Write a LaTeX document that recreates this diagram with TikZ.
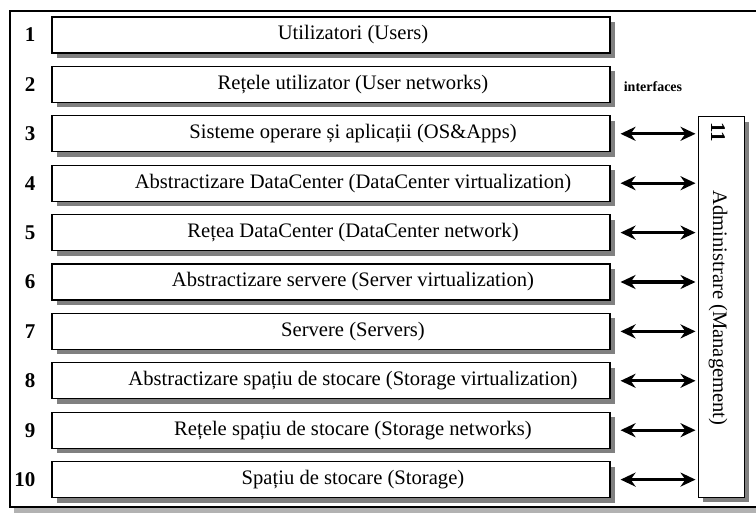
\documentclass[tikz,border=0pt]{standalone}
\usepackage{fontspec}
\setmainfont{Liberation Serif}
\usetikzlibrary{shadows,arrows.meta}

\begin{document}
\begin{tikzpicture}[x = 1pt, y = -1pt,
	boxshadow/.style = {drop shadow = {shadow xshift = 5pt, shadow yshift = -5pt, fill = black!50, opacity = 1}},
	layer/.style = {draw, line width = 1.1pt, fill = white, minimum width = 558pt, minimum height = 36pt, boxshadow},
	lnum/.style = {font = \fontsize{21}{22}\selectfont\bfseries, anchor = east},
	ltext/.style = {font = \fontsize{20.6}{22}\selectfont},
	biarrow/.style = {{Stealth[length = 15pt, width = 14pt]}-{Stealth[length = 15pt, width = 14pt]}, line width = 3.2pt, shorten <= 10pt, shorten >= 2pt}]
	\useasboundingbox (0,0) rectangle (756,516);
	
	% outer frame
	\draw[line width = 2pt, fill = white, drop shadow = {shadow xshift = 4pt, shadow yshift = -6pt, fill = black!30, opacity = 1}] (10,11) rectangle (790,507);
	
	% management column
	\node[draw, line width = 1pt, fill = white, minimum width = 46pt, minimum height = 380pt, boxshadow] (mgmt) at (721,307) {};
	\node[ltext, font = \fontsize{21}{22}\selectfont\bfseries, rotate = -90] (mgmtnum) at (718,132) {11};
	\node[ltext, rotate = -90] (mgmttxt) at (718,308) {Administrare (Management)};
	
	% layers
	\foreach \i/\txt in {1/Utilizatori (Users), 2/Rețele utilizator (User networks), 3/Sisteme operare și aplicații (OS\&Apps), 4/Abstractizare DataCenter (DataCenter virtualization), 5/Rețea DataCenter (DataCenter network), 6/Abstractizare servere (Server virtualization), 7/Servere (Servers), 8/Abstractizare spațiu de stocare (Storage virtualization), 9/Rețele spațiu de stocare (Storage networks), 10/Spațiu de stocare (Storage)} {
		\node[layer] (row\i) at (331, {35+49.4*(\i-1)}) {};
		\node[ltext] (lbl\i) at ([xshift = 22pt]row\i.center) {\txt};
		\node[lnum] (num\i) at (39, {35+49.4*(\i-1)}) {\i};
	}
	
	% interfaces
	\node[font = \fontsize{14}{15}\selectfont\bfseries] (ifacelbl) at (653,87) {interfaces};
	\foreach \i in {3,...,10} {
		\draw[biarrow] (row\i.east) -- (mgmt.west |- row\i.east);
	}
\end{tikzpicture}
\end{document}
